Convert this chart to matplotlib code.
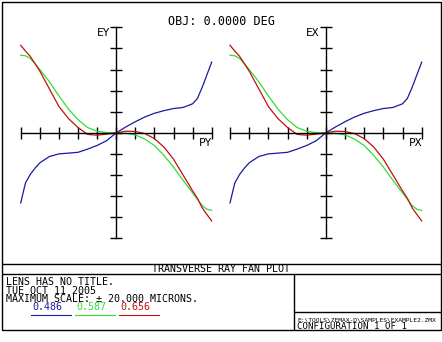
import matplotlib.pyplot as plt
import numpy as np

# normalized pupil coordinate (PY / PX)
pupil = [-1.0, -0.95, -0.9, -0.85, -0.8, -0.7, -0.6, -0.5, -0.4, -0.3, -0.2, -0.1, 0.0,
         0.1, 0.2, 0.3, 0.4, 0.5, 0.6, 0.7, 0.8, 0.85, 0.9, 0.95, 1.0]

# transverse ray error in microns, one list per wavelength
err_486 = [-13.3, -9.5, -7.9, -6.7, -5.7, -4.5, -4.0, -3.85, -3.7, -3.1, -2.4, -1.5, 0.0,
           1.1, 2.1, 3.0, 3.7, 4.2, 4.6, 4.8, 5.5, 6.5, 8.6, 11.0, 13.4]
err_587 = [14.7, 14.6, 14.1, 13.1, 12.0, 9.7, 7.0, 4.5, 2.5, 1.0, 0.3, 0.04, 0.0,
           -0.1, -0.4, -1.2, -2.4, -4.3, -6.5, -9.0, -11.4, -12.6, -13.8, -14.5, -14.7]
err_656 = [16.6, 15.5, 14.5, 13.1, 11.7, 8.35, 5.0, 2.7, 1.0, -0.3, -0.45, -0.25, 0.0,
           0.3, 0.25, -0.15, -1.1, -2.7, -5.0, -8.0, -11.0, -12.4, -14.2, -15.5, -16.7]

wavelengths = ['0.486', '0.587', '0.656']
colors = ['#1a1aa0', '#33dd33', '#c01010']
series = [err_486, err_587, err_656]

max_scale = 20.0
pupil_ticks = np.arange(-1.0, 1.01, 0.2)
err_ticks = np.arange(-20, 20.1, 4)

plt.rcParams['font.family'] = ['DejaVu Sans Mono']

W, H = 442, 342
fig = plt.figure(figsize=(W / 100, H / 100), dpi=100)


def px_axes(x0, y0, x1, y1):
    return fig.add_axes([x0 / W, 1 - y1 / H, (x1 - x0) / W, (y1 - y0) / H])


# frame in pixel coordinates for borders and labels
frame = fig.add_axes([0, 0, 1, 1])
frame.set_xlim(0, W)
frame.set_ylim(H, 0)
frame.axis('off')
lk = dict(color='black', lw=1.0, solid_capstyle='butt')
frame.plot([1.5, 440.5, 440.5, 1.5, 1.5], [1.5, 1.5, 330, 330, 1.5], **lk)
frame.plot([1.5, 440.5], [264, 264], **lk)
frame.plot([1.5, 440.5], [274.3, 274.3], **lk)
frame.plot([294.3, 294.3], [274.3, 330], **lk)
frame.plot([294.3, 440.5], [312, 312], **lk)

frame.text(221, 21.5, 'OBJ: 0.0000 DEG', ha='center', va='center', fontsize=8.5)
frame.text(221, 269.5, 'TRANSVERSE RAY FAN PLOT', ha='center', va='center', fontsize=7.2)
frame.text(6, 282, 'LENS HAS NO TITLE.', ha='left', va='center', fontsize=7.2)
frame.text(6, 290.5, 'TUE OCT 11 2005', ha='left', va='center', fontsize=7.2)
frame.text(6, 299, 'MAXIMUM SCALE: \u00b1 20.000 MICRONS.', ha='left', va='center',
           fontsize=7.2)
frame.text(297, 319.5, 'E:\\TOOLS\\ZEMAX-D\\SAMPLES\\EXAMPLE2.ZMX', ha='left', va='center',
           fontsize=4.5)
frame.text(297, 326.2, 'CONFIGURATION 1 OF 1', ha='left', va='center', fontsize=6.6)

# wavelength legend with underlines
for i, (wl, c) in enumerate(zip(wavelengths, colors)):
    x0 = 31 + i * 44
    frame.text(x0 + 16.5, 307.5, wl, ha='center', va='center', fontsize=7.2, color=c)
    frame.plot([x0, x0 + 40], [315.3, 315.3], color=c, lw=0.8)

# the two fan plots
plots = [((20.7, 27.3, 211.7, 238.3), 'EY', 'PY'),
         ((230.0, 27.3, 421.7, 238.3), 'EX', 'PX')]

for (x0, y0, x1, y1), ylab, xlab in plots:
    ax = px_axes(x0, y0, x1, y1)
    ax.set_xlim(-1, 1)
    ax.set_ylim(-max_scale, max_scale)
    ax.patch.set_alpha(0)
    for s in ['top', 'right']:
        ax.spines[s].set_visible(False)
    ax.spines['left'].set_position(('data', 0))
    ax.spines['bottom'].set_position(('data', 0))
    for s in ['left', 'bottom']:
        ax.spines[s].set_linewidth(1.0)
    ax.set_xticks(pupil_ticks)
    ax.set_yticks(err_ticks)
    ax.tick_params(direction='inout', length=8, width=1.0,
                   labelbottom=False, labelleft=False)
    for vals, c in zip(series, colors):
        ax.plot(pupil, vals, color=c, lw=0.9, clip_on=False)
    xc = (x0 + x1) / 2
    frame.text(xc - 6, 33, ylab, ha='right', va='center', fontsize=8)
    frame.text(x1 + 1, 143, xlab, ha='right', va='center', fontsize=8)

fig.savefig('out.png', dpi=100)
